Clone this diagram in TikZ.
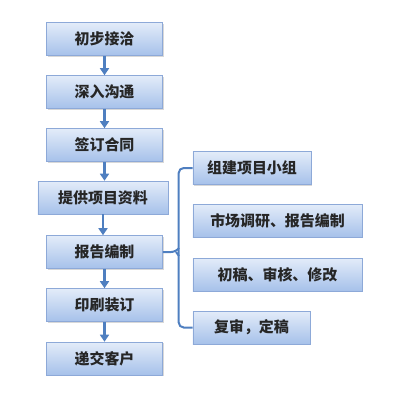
\documentclass[tikz,border=0pt]{standalone}
\usepackage{fontspec}
\newfontfamily\cjk{Noto Sans CJK SC}
\usetikzlibrary{shadows,arrows.meta}
\definecolor{boxtop}{HTML}{E3ECF9}
\definecolor{boxbot}{HTML}{A6C1EA}
\definecolor{boxline}{HTML}{8DA9D8}
\definecolor{flecheblue}{HTML}{4F7FC0}
\begin{document}
\begin{tikzpicture}[x=1bp, y=-1bp,
  etape/.style = {draw=boxline, line width=0.6pt, top color=boxtop, bottom color=boxbot,
                  drop shadow={shadow xshift=1.2pt, shadow yshift=-1.2pt, fill=black!30},
                  font=\cjk\fontsize{15}{17}\selectfont\bfseries, text=black!85,
                  minimum height=33bp, inner sep=0pt},
  fleche/.style = {-{Triangle[length=7pt, width=9pt]}, draw=flecheblue, line width=2.6pt},
  accolade/.style = {draw=flecheblue, line width=2pt, rounded corners=5pt}]
  \useasboundingbox (0,0) rectangle (400,400);
  % etapes principales
  \node[etape, minimum width=116bp] (contact)   at (104.5,39)  {初步接洽};
  \node[etape, minimum width=116bp] (echange)   at (104.5,92)  {深入沟通};
  \node[etape, minimum width=116bp] (contrat)   at (104.5,145) {签订合同};
  \node[etape, minimum width=130bp] (donnees)   at (103,197.5) {提供项目资料};
  \node[etape, minimum width=116bp] (rapport)   at (104.5,252) {报告编制};
  \node[etape, minimum width=116bp] (impression) at (104.5,305) {印刷装订};
  \node[etape, minimum width=116bp] (remise)    at (104.5,358.5) {递交客户};

  % sous-etapes du rapport
  \node[etape, minimum width=118bp] (equipe)   at (252,168)   {组建项目小组};
  \node[etape, minimum width=169bp] (enquete)  at (277.5,220.5) {市场调研、报告编制};
  \node[etape, minimum width=169bp] (brouillon) at (277.5,274.5) {初稿、审核、修改};
  \node[etape, minimum width=117bp] (revision) at (251.5,327.5) {复审，定稿};

  % fleches
  \foreach \a/\b in {contact/echange, echange/contrat, contrat/donnees,
                     donnees/rapport, rapport/impression, impression/remise}
    \draw[fleche] (\a.south) -- (\a.south |- \b.north);

  % accolade
  \coordinate (pointe) at (176,252);
  \draw[accolade] (equipe.west) -- ++(-14,0) |- (revision.west);
  \draw[accolade] (rapport.east) -- (pointe) -- ++(3,-4);
  \draw[accolade] (pointe) -- ++(3,4);
\end{tikzpicture}
\end{document}
